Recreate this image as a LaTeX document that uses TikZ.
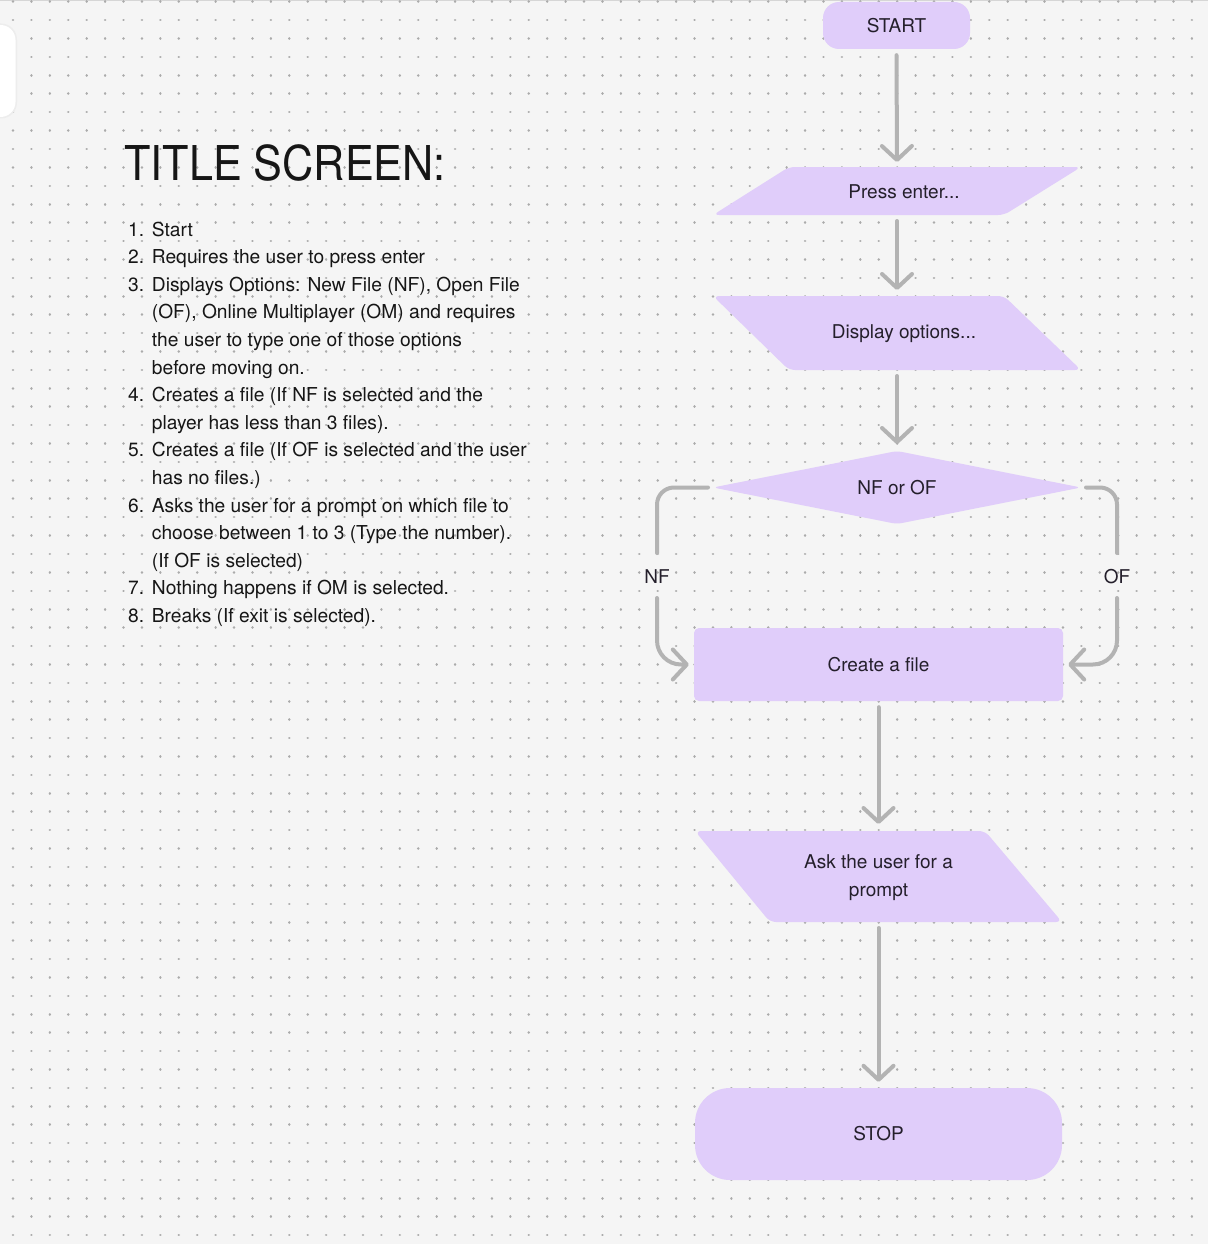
\documentclass[tikz,border=0pt]{standalone}
\usepackage{fontspec}
\usepackage{graphicx}
\setmainfont{TeX Gyre Heros}
\usetikzlibrary{arrows.meta,calc}
\definecolor{bg}{HTML}{F5F5F5}
\definecolor{dotc}{HTML}{ABABAB}
\definecolor{lav}{HTML}{E0CDFA}
\definecolor{arr}{HTML}{B3B3B3}
\definecolor{ink}{HTML}{161616}
\definecolor{sink}{HTML}{241F2B}
\begin{document}
\begin{tikzpicture}[x=1pt,y=-1pt,
  holder/.style={inner sep=0pt, outer sep=0pt, minimum width=#1},
  lbl/.style={font=\fontsize{19}{27.6}\selectfont, text=sink, align=center, inner sep=0pt},
  item/.style={font=\fontsize{19.2}{27.6}\selectfont, text=ink, anchor=base west, inner sep=0pt},
  conn/.style={draw=arr, line width=4pt, line cap=round, line join=round},
  tipped/.style={-{Straight Barb[length=14pt,width=30pt,round]}},
]
\useasboundingbox (0,0) rectangle (1208,1244);
\fill[bg] (0,0) rectangle (1208,1244);
\fill[black!16] (0,0) rectangle (1208,1.3);
% dot grid
\foreach \j in {0,...,67}
  \draw[dotc, line width=2.6pt, line cap=round, dash pattern=on 0.01pt off 18.41pt]
    (13,{1.7+18.41*\j}) -- (1200,{1.7+18.41*\j});
% white card at top-left
\fill[black!7, rounded corners=16pt] (-30,23.5) rectangle (17,118.5);
\fill[white, rounded corners=15pt] (-30,25) rectangle (15.5,117);

% title and list
\node[anchor=base west, inner sep=0pt, text=ink, font=\fontsize{48}{48}\selectfont] (title) at (124,180) {\scalebox{0.9}[1]{TITLE SCREEN:}};
\node[item] (n1) at (128,236.0) {1.};
\node[item] (t0) at (151.7,236.0) {Start};
\node[item] (n2) at (128,263.6) {2.};
\node[item] (t1) at (151.7,263.6) {Requires the user to press enter};
\node[item] (n3) at (128,291.2) {3.};
\node[item] (t2) at (151.7,291.2) {Displays Options: New File (NF), Open File};
\node[item] (t3) at (151.7,318.8) {(OF), Online Multiplayer (OM) and requires};
\node[item] (t4) at (151.7,346.4) {the user to type one of those options};
\node[item] (t5) at (151.7,374.0) {before moving on.};
\node[item] (n4) at (128,401.6) {4.};
\node[item] (t6) at (151.7,401.6) {Creates a file (If NF is selected and the};
\node[item] (t7) at (151.7,429.2) {player has less than 3 files).};
\node[item] (n5) at (128,456.8) {5.};
\node[item] (t8) at (151.7,456.8) {Creates a file (If OF is selected and the user};
\node[item] (t9) at (151.7,484.4) {has no files.)};
\node[item] (n6) at (128,512.0) {6.};
\node[item] (t10) at (151.7,512.0) {Asks the user for a prompt on which file to};
\node[item] (t11) at (151.7,539.6) {choose between 1 to 3 (Type the number).};
\node[item] (t12) at (151.7,567.2) {(If OF is selected)};
\node[item] (n7) at (128,594.8) {7.};
\node[item] (t13) at (151.7,594.8) {Nothing happens if OM is selected.};
\node[item] (n8) at (128,622.4) {8.};
\node[item] (t14) at (151.7,622.4) {Breaks (If exit is selected).};

% flowchart shapes
\node[lbl, fill=lav, rounded corners=16pt, minimum width=147pt, minimum height=47pt] (start) at (896.5,25.5) {START};

\node[holder=368pt, minimum height=48pt] (press) at (897,191) {};
\fill[lav, rounded corners=6pt] (press.south west) -- ($(press.north west)+(76,0)$) -- (press.north east) -- ($(press.south east)+(-77,0)$) -- cycle;
\node[lbl] (presst) at (904,191.5) {Press enter...};

\node[holder=368pt, minimum height=74pt] (disp) at (897,333) {};
\fill[lav, rounded corners=6pt] (disp.north west) -- ($(disp.north east)+(-77,0)$) -- (disp.south east) -- ($(disp.south west)+(76,0)$) -- cycle;
\node[lbl] (dispt) at (904,333.5) {Display options...};

\node[holder=368pt, minimum height=73pt] (dec) at (897,487.5) {};
\fill[lav, rounded corners=5pt] (dec.north) -- (dec.east) -- (dec.south) -- (dec.west) -- cycle;
\node[lbl] (dect) at (897,488) {NF or OF};

\node[lbl, fill=lav, rounded corners=5pt, minimum width=369pt, minimum height=73pt] (create) at (878.5,664.5) {Create a file};

\node[holder=367pt, minimum height=91pt] (ask) at (878.5,876.5) {};
\fill[lav, rounded corners=6pt] (ask.north west) -- ($(ask.north east)+(-77,0)$) -- (ask.south east) -- ($(ask.south west)+(75,0)$) -- cycle;
\node[lbl] (askt) at (878.5,877.5) {Ask the user for a\\prompt};

\node[lbl, fill=lav, rounded corners=35pt, minimum width=367pt, minimum height=92pt] (stop) at (878.5,1134) {STOP};

% connectors
\draw[conn, tipped, shorten <=6pt, shorten >=5pt] (start.south) -- (press.north);
\draw[conn, tipped, shorten <=6pt, shorten >=6pt] (press.south) -- (disp.north);
\draw[conn, tipped, shorten <=6pt, shorten >=7pt] (disp.south) -- (dec.north);
\draw[conn, tipped, shorten <=6pt, shorten >=7pt] (create.south) -- (ask.north);
\draw[conn, tipped, shorten <=6pt, shorten >=6pt] (ask.south) -- (stop.north);

\coordinate (nfa) at (657,553);
\coordinate (nfb) at (657,598);
\coordinate (ofa) at (1117,553);
\coordinate (ofb) at (1117,598);
\node[lbl] (nf) at (657,576.5) {NF};
\node[lbl] (of) at (1117,576.5) {OF};
\draw[conn, rounded corners=17pt, shorten <=5pt] (dec.west) -| (nfa);
\draw[conn, tipped, rounded corners=24pt, shorten >=5pt] (nfb) |- (create.west);
\draw[conn, rounded corners=17pt, shorten <=5pt] (dec.east) -| (ofa);
\draw[conn, tipped, rounded corners=24pt, shorten >=5pt] (ofb) |- (create.east);
\end{tikzpicture}
\end{document}
